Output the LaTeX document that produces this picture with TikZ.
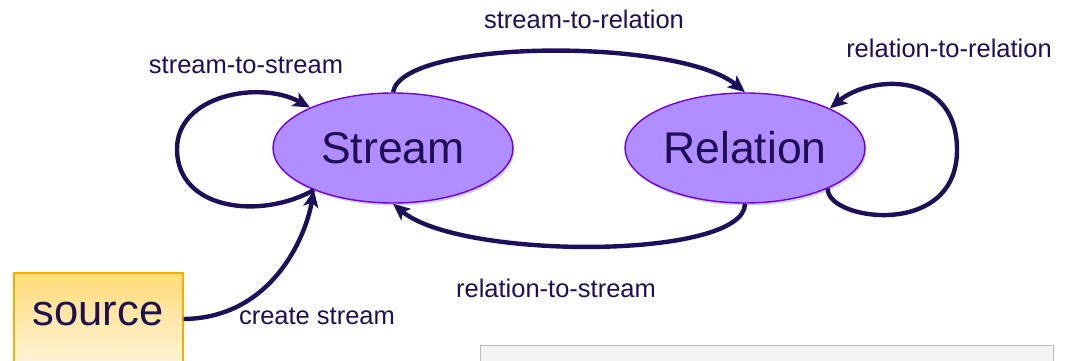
\documentclass[tikz,border=0pt]{standalone}
\usepackage{fontspec}
\setmainfont{Liberation Sans}
\usetikzlibrary{shapes.geometric,arrows.meta,shadows}

\definecolor{ink}{HTML}{1F0F55}
\definecolor{wire}{HTML}{1E0F5A}
\definecolor{lavender}{HTML}{B08EFF}
\definecolor{violet}{HTML}{7400D6}
\definecolor{goldtop}{HTML}{FFDC78}
\definecolor{goldbot}{HTML}{FFF4D8}
\definecolor{goldedge}{HTML}{F0B000}
\definecolor{panelfill}{HTML}{F4F4F4}
\definecolor{paneledge}{HTML}{BDBDBD}

\tikzset{
  state/.style={ellipse, draw=violet, line width=1.4pt, fill=lavender,
    minimum width=240pt, minimum height=110pt, inner sep=0pt,
    drop shadow={shadow xshift=1.5pt, shadow yshift=-2.5pt, opacity=0.18, fill=black}},
  statetext/.style={text=ink, font=\fontsize{44.5}{50}\selectfont},
  srcbox/.style={rectangle, draw=goldedge, line width=1.4pt,
    top color=goldtop, bottom color=goldbot,
    minimum width=169pt, minimum height=92pt, inner sep=0pt},
  srctext/.style={text=ink, font=\fontsize{43.5}{48}\selectfont, anchor=base},
  edgelabel/.style={text=ink, font=\fontsize{25.5}{30}\selectfont, anchor=base, inner sep=0pt},
  flow/.style={draw=wire, line width=4.4pt,
    -{Stealth[length=17pt, width=15pt, inset=4pt]}},
  panel/.style={rectangle, draw=paneledge, line width=1.2pt, fill=panelfill,
    minimum width=573pt, minimum height=40pt, inner sep=0pt, anchor=north west}
}

\begin{document}
\begin{tikzpicture}[x=1pt, y=1pt]
  \useasboundingbox (0,0) rectangle (1065,360);
  \clip (0,0) rectangle (1065,360);

  % states
  \node[state] (S) at (393,212) {};
  \node[state] (R) at (745,212) {};
  \node[statetext] (Slabel) at (S.center) {Stream};
  \node[statetext] (Rlabel) at (R.center) {Relation};

  % source box and the lower panel
  \node[srcbox] (src) at (98.5,41) {};
  \node[srctext] (srclabel) at (98,35) {source};
  \node[panel] (panel) at (480,15) {};

  % stream-to-stream loop
  \draw[flow] (S.208) .. controls (260,140) and (178,150) .. (177,210)
                      .. controls (176,265) and (260,280) .. (S.154);
  % stream-to-relation
  \draw[flow] (S.north) .. controls (402,322) and (680,322) .. (R.north);
  % relation-to-relation loop
  \draw[flow] (R.334) .. controls (825,140) and (957,120) .. (957,210)
                      .. controls (957,290) and (870,285) .. (R.25);
  % relation-to-stream
  \draw[flow] (R.south) .. controls (745,100) and (460,100) .. (S.south);
  % create stream
  \draw[flow] (src.east) .. controls (270,42) and (305,120) .. (S.208);

  % connector labels
  \node[edgelabel] (lss) at (246,287) {stream-to-stream};
  \node[edgelabel] (lsr) at (584,332) {stream-to-relation};
  \node[edgelabel] (lrr) at (949,303) {relation-to-relation};
  \node[edgelabel] (lrs) at (556,63) {relation-to-stream};
  \node[edgelabel] (lcs) at (317,36) {create stream};
\end{tikzpicture}
\end{document}
